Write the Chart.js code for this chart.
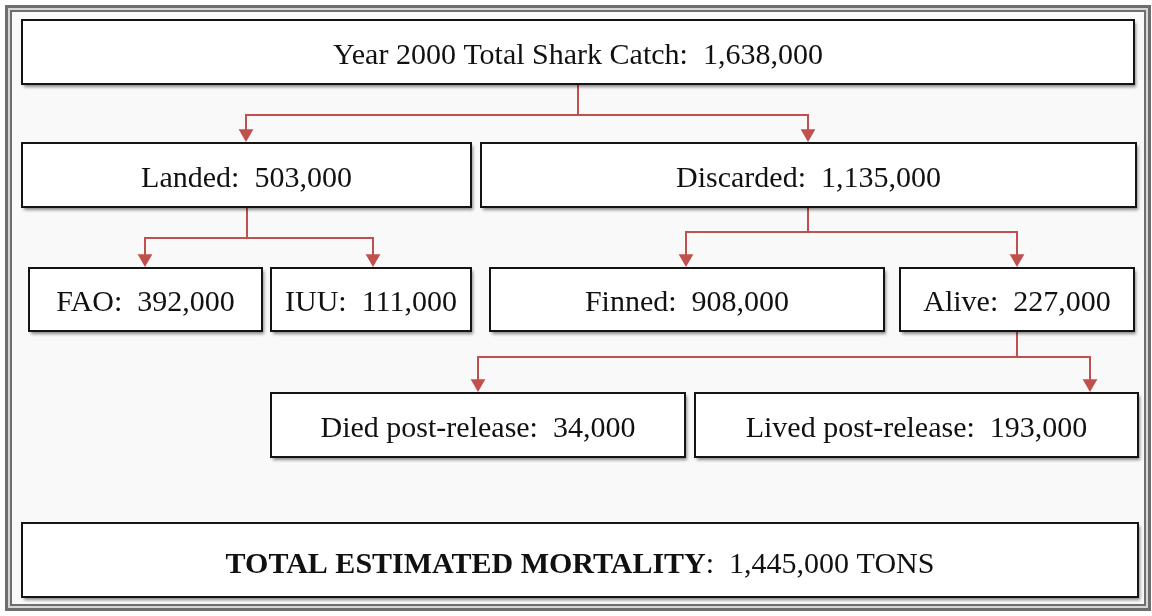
<!DOCTYPE html>
<html>
<head>
<meta charset="utf-8">
<script src="https://cdn.jsdelivr.net/npm/chart.js@4.4.1/dist/chart.umd.min.js"></script>
<style>
  html, body { margin: 0; padding: 0; background: #fff; }
  #wrap { width: 1152px; height: 616px; position: relative; }
</style>
</head>
<body>
<div id="wrap"><canvas id="tree"></canvas></div>
<script>
// tree data
const nodeLabels = ['Year 2000 Total Shark Catch', 'Landed', 'Discarded', 'FAO', 'IUU', 'Finned', 'Alive', 'Died post-release', 'Lived post-release'];
const nodeValues = [1638000, 503000, 1135000, 392000, 111000, 908000, 227000, 34000, 193000];
const parentOf = [null, 0, 0, 1, 1, 2, 2, 6, 6];
const totalLabel = 'TOTAL ESTIMATED MORTALITY';
const totalValue = 1445000;
const totalUnit = 'TONS';

// layout in diagram units (x0, x1, y0, y1)
const boxes = [
    [22, 1134, 20, 84],
    [22, 471, 143, 207],
    [481, 1136, 143, 207],
    [29, 262, 268, 331],
    [271, 471, 268, 331],
    [490, 884, 268, 331],
    [900, 1134, 268, 331],
    [271, 685, 393, 457],
    [695, 1138, 393, 457]
];
const totalBox = [22, 1138, 523, 597];
// connector: stem x, bus y, arrow x for each child
const busY = { 0: 115, 1: 238, 2: 232, 6: 357 };
const stemX = { 0: 578, 1: 247, 2: 808, 6: 1017 };
const arrowX = [null, 246, 808, 145, 373, 686, 1017, 478, 1090];

const red = '#c0504d';
const fmt = v => v.toLocaleString('en-US');

const datasets = [];
const tips = [];
Object.keys(busY).forEach(p => {
    p = +p;
    const kids = parentOf.map((q, i) => q === p ? i : -1).filter(i => i >= 0);
    const b = boxes[p];
    datasets.push({ data: [{ x: stemX[p], y: b[3] }, { x: stemX[p], y: busY[p] }] });
    const path = [];
    kids.forEach((k, j) => {
        const top = boxes[k][2] - 6;
        if (j === 0) path.push({ x: arrowX[k], y: top }, { x: arrowX[k], y: busY[p] });
        else path.push({ x: arrowX[k], y: busY[p] }, { x: arrowX[k], y: top });
        // triangle centre sits one radius above the tip
        tips.push({ x: arrowX[k], y: boxes[k][2] - 1 - 8.5 });
    });
    datasets.push({ data: path });
});
datasets.forEach(d => Object.assign(d, {
    type: 'line', borderColor: red, borderWidth: 2, pointRadius: 0, tension: 0, fill: false, clip: false
}));
datasets.push({
    type: 'scatter', data: tips, pointStyle: 'triangle', rotation: 180, pointRadius: 8.5,
    backgroundColor: red, borderColor: red, borderWidth: 0, clip: false
});

const frame = {
    id: 'frame',
    beforeDraw(chart) {
        const c = chart.ctx;
        c.save();
        c.fillStyle = '#ffffff';
        c.fillRect(0, 0, chart.width, chart.height);
        c.fillStyle = '#6e6e6e';
        c.fillRect(5, 5, 1146, 606);
        c.fillStyle = '#d6d6d6';
        c.fillRect(8, 8, 1140, 600);
        c.fillStyle = '#6e6e6e';
        c.fillRect(10, 10, 1136, 596);
        c.fillStyle = '#f9f9f9';
        c.fillRect(12, 12, 1132, 592);
        c.restore();
    }
};

function drawBox(chart, r) {
    const c = chart.ctx, xs = chart.scales.x, ys = chart.scales.y;
    const x0 = xs.getPixelForValue(r[0]), x1 = xs.getPixelForValue(r[1]);
    const y0 = ys.getPixelForValue(r[2]), y1 = ys.getPixelForValue(r[3]);
    c.save();
    c.shadowColor = 'rgba(0,0,0,0.45)';
    c.shadowBlur = 3;
    c.shadowOffsetX = 2;
    c.shadowOffsetY = 3;
    c.fillStyle = '#ffffff';
    c.fillRect(x0, y0, x1 - x0, y1 - y0);
    c.restore();
    c.save();
    c.strokeStyle = '#141414';
    c.lineWidth = 2;
    c.strokeRect(x0, y0, x1 - x0, y1 - y0);
    c.restore();
    return { cx: (x0 + x1) / 2, cy: (y0 + y1) / 2 };
}

const nodes = {
    id: 'nodes',
    afterDatasetsDraw(chart) {
        const c = chart.ctx;
        const font = '30px "Liberation Serif", "Times New Roman", serif';
        boxes.forEach((r, i) => {
            const m = drawBox(chart, r);
            c.save();
            c.font = font;
            c.fillStyle = '#111';
            c.textAlign = 'center';
            c.textBaseline = 'alphabetic';
            c.fillText(nodeLabels[i] + ':  ' + fmt(nodeValues[i]), m.cx, m.cy + 11.5);
            c.restore();
        });
        const m = drawBox(chart, totalBox);
        c.save();
        c.fillStyle = '#111';
        c.textBaseline = 'alphabetic';
        const bold = 'bold ' + font;
        const rest = ':  ' + fmt(totalValue) + ' ' + totalUnit;
        c.font = bold;
        const w1 = c.measureText(totalLabel).width;
        c.font = font;
        const w2 = c.measureText(rest).width;
        let x = m.cx - (w1 + w2) / 2;
        c.font = bold;
        c.fillText(totalLabel, x, m.cy + 12.5);
        c.font = font;
        c.fillText(rest, x + w1, m.cy + 12.5);
        c.restore();
    }
};

new Chart(document.getElementById('tree'), {
    data: { datasets },
    options: {
        responsive: true,
        maintainAspectRatio: false,
        animation: false,
        layout: { padding: 0, autoPadding: false },
        plugins: { legend: { display: false }, tooltip: { enabled: false } },
        scales: {
            x: { type: 'linear', min: 0, max: 1152, display: false },
            y: { type: 'linear', min: 0, max: 616, reverse: true, display: false }
        }
    },
    plugins: [frame, nodes]
});
</script>
</body>
</html>
